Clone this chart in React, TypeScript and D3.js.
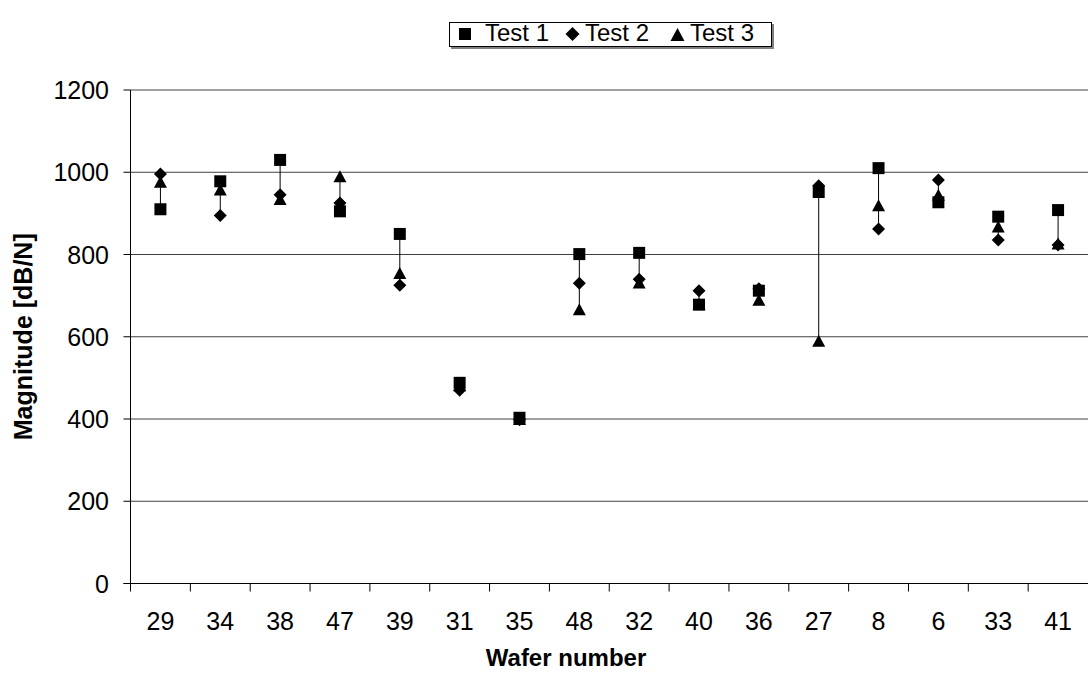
import React from "react";
import * as d3 from "d3";

const categories = ["29", "34", "38", "47", "39", "31", "35", "48", "32", "40", "36", "27", "8", "6", "33", "41"];
const test1 = [910, 978, 1030, 905, 850, 488, 403, 801, 804, 678, 712, 952, 1010, 927, 892, 908];
const test2 = [996, 895, 945, 925, 725, 470, 398, 730, 740, 712, 717, 967, 862, 981, 835, 823];
const test3 = [977, 958, 935, 990, 755, 482, 400, 667, 732, 680, 690, 590, 920, 945, 868, 827];
const yTicks = [0, 200, 400, 600, 800, 1000, 1200];
const seriesNames = ["Test 1", "Test 2", "Test 3"];

const W = 1088;
const H = 679;
const left = 130.5;
const right = 1088;
const top = 90;
const bottom = 583.5;

function squarePath(s: number) {
  const p = d3.path();
  p.rect(-s / 2, -s / 2, s, s);
  return p.toString();
}
function diamondPath(w: number, h: number) {
  const p = d3.path();
  p.moveTo(0, -h / 2);
  p.lineTo(w / 2, 0);
  p.lineTo(0, h / 2);
  p.lineTo(-w / 2, 0);
  p.closePath();
  return p.toString();
}
function trianglePath(w: number, h: number) {
  const p = d3.path();
  p.moveTo(0, -h / 2);
  p.lineTo(w / 2, h / 2);
  p.lineTo(-w / 2, h / 2);
  p.closePath();
  return p.toString();
}

export default function App() {
  const x = d3.scaleBand().domain(categories).range([left, right]).padding(0);
  const y = d3.scaleLinear().domain([0, 1200]).range([bottom, top]);
  const font = "Arial, 'Liberation Sans', Helvetica, sans-serif";
  const sq = squarePath(12);
  const dm = diamondPath(13, 13);
  const tr = trianglePath(13, 12);
  const sqL = squarePath(12);
  const dmL = diamondPath(14, 14);
  const trL = trianglePath(14, 13);
  const cx = (c: string) => (x(c) as number) + x.bandwidth() / 2;
  const fs = 25;

  return (
    <svg width={W} height={H} style={{ position: "absolute", left: 0, top: 0, background: "#fff" }} fontFamily={font}>
      {yTicks.filter((t) => t > 0).map((t) => (
        <line key={"g" + t} x1={left} x2={right} y1={y(t)} y2={y(t)}
          stroke={t === 1200 ? "#808080" : "#404040"} strokeWidth={t === 1200 ? 1.5 : 1} />
      ))}
      <line x1={left} x2={left} y1={top} y2={bottom} stroke="#000" strokeWidth={1} />
      <line x1={left - 7} x2={right} y1={bottom} y2={bottom} stroke="#000" strokeWidth={1} />
      {yTicks.map((t) => (
        <g key={"yt" + t}>
          <line x1={left - 7} x2={left} y1={y(t)} y2={y(t)} stroke="#000" />
          <text x={109} y={y(t)} dy="0.36em" textAnchor="end" fontSize={fs} fill="#000">{t}</text>
        </g>
      ))}
      {categories.map((c) => (
        <g key={"xt" + c}>
          <line x1={x(c) as number} x2={x(c) as number} y1={bottom} y2={bottom + 8} stroke="#000" />
          <text x={cx(c)} y={630} textAnchor="middle" fontSize={fs} fill="#000">{c}</text>
        </g>
      ))}
      {categories.map((c, i) => {
        const vals = [test1[i], test2[i], test3[i]];
        return (
          <line key={"hl" + c} x1={cx(c)} x2={cx(c)} y1={y(d3.max(vals)!)} y2={y(d3.min(vals)!)} stroke="#000" strokeWidth={1} />
        );
      })}
      {categories.map((c, i) => (
        <path key={"s1" + c} d={sq} transform={`translate(${cx(c)},${y(test1[i])})`} fill="#000" />
      ))}
      {categories.map((c, i) => (
        <path key={"s2" + c} d={dm} transform={`translate(${cx(c)},${y(test2[i])})`} fill="#000" />
      ))}
      {categories.map((c, i) => (
        <path key={"s3" + c} d={tr} transform={`translate(${cx(c)},${y(test3[i])})`} fill="#000" />
      ))}
      <text x={566} y={666} textAnchor="middle" fontSize={24} fontWeight="bold" fill="#000">Wafer number</text>
      <text transform={`translate(32,${(top + bottom) / 2}) rotate(-90)`} textAnchor="middle" fontSize={fs} fontWeight="bold" fill="#000">Magnitude [dB/N]</text>
      <rect x={451} y={24} width={323} height={25} fill="#808080" />
      <rect x={449.5} y={22.5} width={322} height={24} fill="#fff" stroke="#000" strokeWidth={1} />
      <path d={sqL} transform="translate(465,34)" fill="#000" />
      <text x={485} y={41} fontSize={24} fill="#000">{seriesNames[0]}</text>
      <path d={dmL} transform="translate(572.5,34)" fill="#000" />
      <text x={585} y={41} fontSize={24} fill="#000">{seriesNames[1]}</text>
      <path d={trL} transform="translate(677.5,34.5)" fill="#000" />
      <text x={690} y={41} fontSize={24} fill="#000">{seriesNames[2]}</text>
    </svg>
  );
}
